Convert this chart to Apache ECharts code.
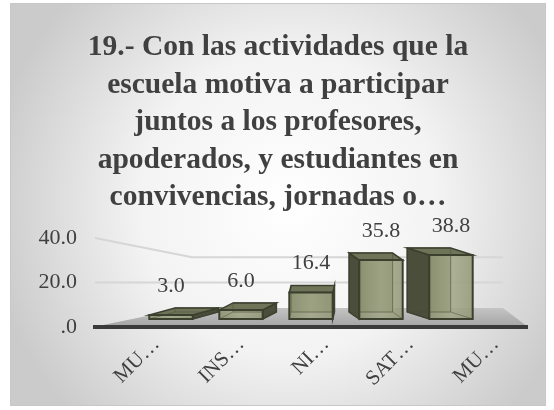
<!DOCTYPE html>
<html><head><meta charset="utf-8">
<script src="https://cdn.jsdelivr.net/npm/echarts@6/dist/echarts.min.js"></script>
<style>
html,body{margin:0;padding:0;background:#fff;width:554px;height:410px;overflow:hidden}
#c{position:absolute;left:10px;top:3px;width:534px;height:401px;border:1px solid #c8c8c8}
</style></head><body><div id="c"></div>
<script>
const titleText = "19.- Con las actividades que la\nescuela motiva a participar\njuntos a los profesores,\napoderados, y estudiantes en\nconvivencias, jornadas o…";
const categories = ["MUY INSATISFECHO","INSATISFECHO","NI SATISFECHO NI INSATISFECHO","SATISFECHO","MUY SATISFECHO"];
const tickLabels = ["MU…","INS…","NI…","SAT…","MU…"];
const values = [3.0, 6.0, 16.4, 35.8, 38.8];
const gridValues = [20, 40];

const serif = "'Liberation Serif','DejaVu Serif',serif";
const chart = echarts.init(document.getElementById('c'));

// floor, axis line and receding gridlines, placed through grid 0's scales
function renderFloor(params, api) {
  const cs = params.coordSys;
  const zero = api.coord([0, 0])[1];
  const backY = zero - 19;
  const fl = cs.x - 21, fr = cs.x + cs.width - 10;
  const bl = cs.x + 72, br = cs.x + cs.width - 35;
  const children = [{
    type: 'polygon', shape: {points: [[fl, zero], [bl, backY], [br, backY], [fr, zero]]},
    style: {fill: {type:'linear', x:0, y:0, x2:0, y2:1, colorStops:[{offset:0,color:'#c4c4c4'},{offset:1,color:'#a4a4a4'}]}}
  }];
  gridValues.forEach(v => {
    const yl = api.coord([0, v])[1];
    const yb = backY - v * 1.27;
    children.push({type:'polyline', shape:{points:[[cs.x - 19, yl], [bl + 6, yb], [br, yb]]},
      style:{stroke:'#d6d6d6', lineWidth:2, fill:null}});
  });
  children.push({type:'line', shape:{x1: fl, y1: zero, x2: fr, y2: zero},
    style:{stroke:'#3a3a3a', lineWidth:4}});
  return {type:'group', children};
}

// pseudo-3D bars, placed through grid 1's scales
function renderBar(params, api) {
  const i = api.value(0), v = api.value(1);
  const cs = params.coordSys;
  const top = api.coord([i, v]);
  const cx = top[0], yTop = top[1];
  const yBase = api.coord([i, 0])[1] + 6;
  const w = api.size([1, 0])[0] * 0.62;
  const vx = cs.x + cs.width * 0.53;
  const dx = (vx - cx) * 0.17;
  const d = 7;
  const x0 = cx - w / 2, x1 = cx + w / 2, yF = yTop + d;
  const bx0 = x0 + dx, bx1 = x1 + dx, byB = yBase - d;
  const edge = '#3b3f2e';
  const kids = [];
  kids.push({type:'polygon', shape:{points:[[bx0,yTop],[bx1,yTop],[bx1,byB],[bx0,byB]]},
    style:{fill:'#7f8468', stroke:edge, lineWidth:1}});
  const side = dx < 0
    ? [[x0, yF], [bx0, yTop], [bx0, byB], [x0, yBase]]
    : [[x1, yF], [bx1, yTop], [bx1, byB], [x1, yBase]];
  kids.push({type:'polygon', shape:{points:side}, style:{fill:'#4a4e3b', stroke:edge, lineWidth:1.5}});
  kids.push({type:'polygon', shape:{points:[[x0,yF],[x1,yF],[bx1,yTop],[bx0,yTop]]},
    style:{fill:'#6f7458', stroke:edge, lineWidth:1.5}});
  kids.push({type:'rect', shape:{x:x0, y:yF, width:w, height:Math.max(yBase - yF, 1)},
    style:{fill:{type:'linear',x:0,y:0,x2:1,y2:0,colorStops:[
      {offset:0,color:'rgba(140,146,112,0.88)'},{offset:0.5,color:'rgba(162,167,136,0.85)'},{offset:1,color:'rgba(146,151,118,0.88)'}]},
      stroke:edge, lineWidth:2}});
  kids.push({type:'polyline', shape:{points:[[bx0,yTop],[bx0,byB],[bx1,byB],[bx1,yTop]]},
    style:{stroke:'rgba(70,74,55,0.45)', lineWidth:1, fill:null}});
  kids.push({type:'polyline', shape:{points:[[x0,yBase],[bx0,byB]]},
    style:{stroke:'rgba(70,74,55,0.45)', lineWidth:1, fill:null}});
  kids.push({type:'polyline', shape:{points:[[x1,yBase],[bx1,byB]]},
    style:{stroke:'rgba(70,74,55,0.45)', lineWidth:1, fill:null}});
  kids.push({type:'text', style:{text: v.toFixed(1), x: cx, y: yTop - 22,
    align:'center', verticalAlign:'middle', fill:'#404040', fontSize:22, fontFamily:serif}});
  return {type:'group', children:kids};
}

chart.setOption({
  backgroundColor: {type:'radial', x:0.52, y:0.5, r:0.75,
    colorStops:[{offset:0,color:'#ffffff'},{offset:0.5,color:'#f3f3f3'},{offset:1,color:'#cbcbcb'}]},
  title: {text: titleText, left:'center', top:20,
    textStyle:{fontFamily:serif, fontWeight:'bold', fontSize:29.5, lineHeight:37.5, color:'#404040'}},
  grid: [
    {left:103, right:7, top:234, bottom:78},
    {left:125, right:59, top:242, bottom:92}
  ],
  xAxis: [
    {type:'category', data: categories, gridIndex:0,
      axisLine:{show:false}, axisTick:{show:false},
      axisLabel:{rotate:45, interval:0, margin:14, fontFamily:serif, fontSize:21, color:'#404040',
        formatter:(v, i)=>tickLabels[i]}},
    {type:'category', data: categories, gridIndex:1, show:false}
  ],
  yAxis: [
    {type:'value', gridIndex:0, min:0, max:40, interval:20,
      axisLine:{show:false}, axisTick:{show:false}, splitLine:{show:false},
      axisLabel:{margin:37, fontFamily:serif, fontSize:22, color:'#404040',
        formatter:v=>v.toFixed(1).replace(/^0/,'')}},
    {type:'value', gridIndex:1, min:0, max:40, show:false, splitLine:{show:false}}
  ],
  series: [
    {type:'custom', xAxisIndex:0, yAxisIndex:0, z:1, silent:true, data:[[0, 0]], renderItem: renderFloor},
    {type:'custom', xAxisIndex:1, yAxisIndex:1, z:2, data: values.map((v, i) => [i, v]), renderItem: renderBar}
  ]
});
</script></body></html>
